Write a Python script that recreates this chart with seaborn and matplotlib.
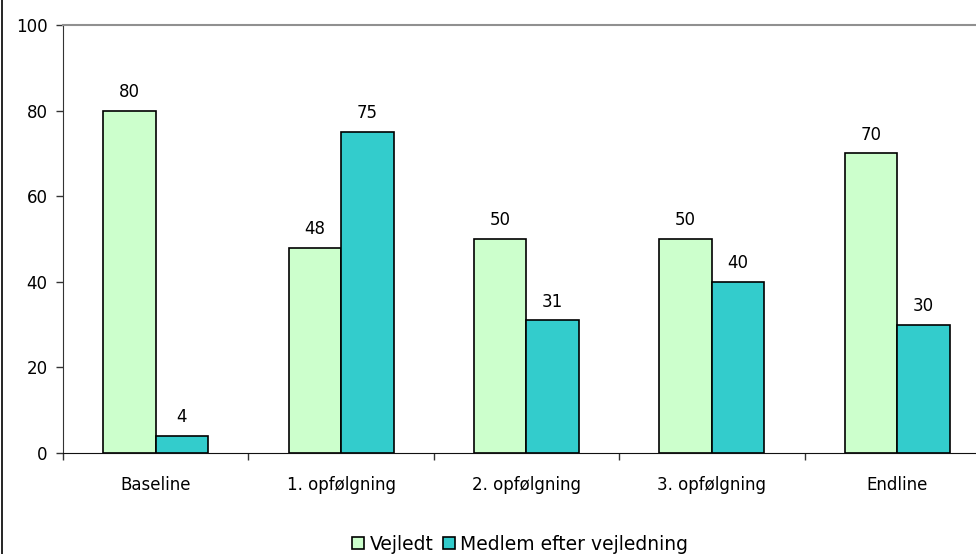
import numpy as np
import pandas as pd
import seaborn as sns
import matplotlib.pyplot as plt
from matplotlib.lines import Line2D

categories = ["Baseline", "1. opfølgning", "2. opfølgning", "3. opfølgning", "Endline"]
series_names = ["Vejledt", "Medlem efter vejledning"]
vejledt = [80, 48, 50, 50, 70]
medlem = [4, 75, 31, 40, 30]
colors = ["#ccffcc", "#33cccc"]

df = pd.DataFrame({
    "category": categories * 2,
    "series": [series_names[0]] * 5 + [series_names[1]] * 5,
    "value": vejledt + medlem,
})

sns.set_style("white")
plt.rcParams['font.family'] = ['DejaVu Sans']
plt.rcParams['text.color'] = 'black'
plt.rcParams['xtick.color'] = 'black'
plt.rcParams['ytick.color'] = 'black'

fig = plt.figure(figsize=(9.76, 5.54), dpi=100)
ax = fig.add_axes([63 / 976, 101 / 554, 1 - 63 / 976, 428 / 554])

sns.barplot(data=df, x="category", y="value", hue="series", palette=colors,
            width=0.566, saturation=1, edgecolor="black", linewidth=1.2, ax=ax)

for cont in ax.containers:
    ax.bar_label(cont, padding=7, fontsize=12, color="black")

ax.set_ylim(0, 100)
ax.set_xlim(-0.5, 4.5 - 14 / 185.5)
ax.set_yticks(range(0, 101, 20))
ax.set_xlabel("")
ax.set_ylabel("")
ax.tick_params(axis="y", which="major", left=True, length=5, width=1, labelsize=12, pad=6, color="#333333")
ax.tick_params(axis="x", which="major", bottom=False, labelsize=12, pad=13)
ax.set_xticks(np.arange(-0.5, 4, 1), minor=True)
ax.tick_params(axis="x", which="minor", bottom=True, length=5, width=1, color="#333333")

ax.spines["right"].set_visible(False)
ax.spines["top"].set_color("#909090")
ax.spines["top"].set_linewidth(1.5)
ax.spines["left"].set_color("#333333")
ax.spines["bottom"].set_color("#111111")

handles, labels = ax.get_legend_handles_labels()
ax.get_legend().remove()
fig.legend(handles, labels, loc="center", bbox_to_anchor=(520 / 976, 1 - 544 / 554),
           ncol=2, frameon=False, fontsize=13.5, handlelength=0.65, handleheight=0.65,
           handletextpad=0.3, columnspacing=0.5)

# left edge of the outer frame
fig.add_artist(Line2D([1.5 / 976, 1.5 / 976], [0, 1], color="black", linewidth=1.2))

fig.savefig("out.png", dpi=100)
plt.close(fig)
